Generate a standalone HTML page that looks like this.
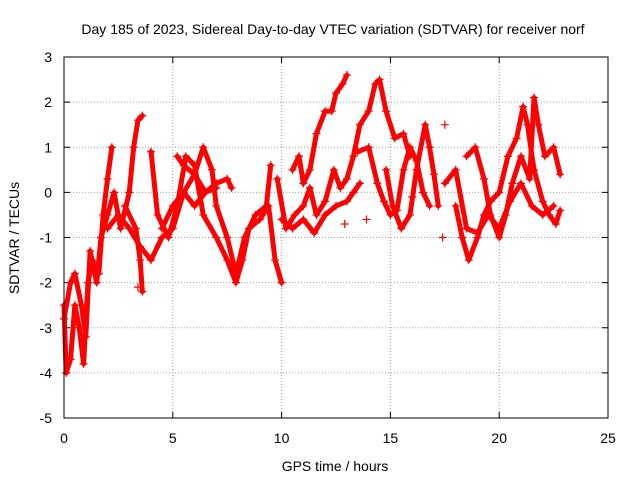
<!DOCTYPE html>
<html><head><meta charset="utf-8"><style>
body{margin:0;background:#fff}
svg text{font-family:"Liberation Sans",sans-serif;font-size:14px;fill:#000}
</style></head><body>
<svg id="chart" width="640" height="480" xmlns="http://www.w3.org/2000/svg">
<text x="333" y="34" text-anchor="middle">Day 185 of 2023, Sidereal Day-to-day VTEC variation (SDTVAR) for receiver norf</text>
<text x="335" y="471" text-anchor="middle">GPS time / hours</text>
<text transform="translate(19,238) rotate(-90)" text-anchor="middle">SDTVAR / TECUs</text>
<g id="grid"></g>
<g id="ticks"></g>
<g id="marks"></g>
<rect x="64" y="57" width="544" height="361" fill="none" stroke="#000" stroke-width="1"/>
</svg>
<script>
const xTicks=[0,5,10,15,20,25];
const yTicks=[3,2,1,0,-1,-2,-3,-4,-5];
const trackA=[[0,-2.5],[0.1,-4],[0.3,-3.7],[0.5,-2.5],[0.7,-3],[0.9,-3.8],[1.1,-2],[1.3,-1.5],[1.6,-1.8],[1.8,-0.5],[2.0,0.3],[2.2,1.0]];
const trackB=[[0,-2.8],[0.3,-2],[0.5,-1.8],[0.8,-2.5],[1.0,-3.2],[1.2,-1.3],[1.5,-2],[1.7,-1],[2.0,-0.5],[2.3,0],[2.6,-0.8],[3.0,0],[3.2,1.0],[3.4,1.6],[3.6,1.7]];
const trackC=[[2.0,-0.8],[2.5,-0.5],[3.0,-0.8],[3.5,-1.2],[4.0,-1.5],[4.5,-1],[5.0,-0.8],[5.5,0],[6.0,0.4],[6.5,0],[7.0,0.2],[7.5,0.3],[7.7,0.1]];
const trackD=[[2.8,-0.3],[3.3,-0.8],[3.5,-1.5],[3.6,-2.2]];
const trackE=[[4.0,0.9],[4.3,-0.5],[4.8,-1],[5.2,-0.3],[5.6,0.8],[6.0,0.6],[6.4,-0.5],[7.0,-1],[7.5,-1.5],[7.9,-2],[8.2,-1.5],[8.5,-0.8],[9.0,-0.6],[9.4,-0.3],[9.7,-1.5],[10.0,-2]];
const trackF=[[5.2,0.8],[5.5,0.6],[6.0,0.4],[6.4,1.0],[6.8,0.5],[7.0,-0.3],[7.5,-1],[7.9,-1.8],[8.3,-1],[8.8,-0.5],[9.3,-0.3],[9.5,0.6]];
const trackG=[[4.5,-0.8],[5.0,-0.3],[5.5,0],[6.0,-0.3],[6.5,0],[7.0,0.1]];
const trackH=[[9.8,0.3],[10.2,-0.8],[10.6,-0.5],[11,-0.3],[11.3,0.1],[11.6,-0.5],[12,-0.2],[12.4,0.5],[12.7,0.1],[13,0.3],[13.3,0.8],[13.6,1.5],[14,1.8],[14.3,2.4],[14.5,2.5],[14.8,1.8],[15.2,1.2],[15.6,1.3],[15.9,0.8]];
const trackI=[[10.5,0.5],[10.8,0.8],[11,0.2],[11.3,0.5],[11.6,1.3],[12,1.8],[12.3,1.8],[12.5,2.2],[12.8,2.4],[13,2.6]];
const trackJ=[[10,-0.6],[10.5,-0.8],[11,-0.6],[11.5,-0.9],[12,-0.5],[12.5,-0.3],[13,-0.2],[13.3,0],[13.6,0.2]];
const trackK=[[13.5,0.9],[14,1.0],[14.4,0.2],[14.7,-0.2],[15,-0.5],[15.3,-0.4],[15.6,0.5],[15.9,1.0],[16.2,0.7],[16.5,0],[16.8,-0.3]];
const trackL=[[14.8,0.5],[15.1,-0.3],[15.5,-0.8],[15.9,-0.5],[16.2,0.5],[16.6,1.5],[16.8,1.0],[17,0.4],[17.2,-0.3]];
const trackM=[[18,-0.3],[18.3,-1],[18.6,-1.5],[19,-1],[19.3,-0.5],[19.6,-0.2],[20,0],[20.4,0.8],[20.8,1.2],[21.1,1.9],[21.3,1.5],[21.6,0.5],[22,-0.2],[22.3,-0.5],[22.6,-0.7],[22.8,-0.4]];
const trackN=[[18.5,0.8],[18.9,1.0],[19.3,0.3],[19.6,-0.5],[20,-1],[20.3,-0.5],[20.6,0.2],[21,0.8],[21.4,0.3],[21.6,2.1],[21.8,1.5],[22.1,0.8],[22.5,1.0],[22.8,0.4]];
const trackO=[[17.5,0.2],[18,0.5],[18.5,-0.8],[19,-0.9],[19.5,-0.5],[20,-0.8],[20.5,-0.2],[21,0.2],[21.5,-0.3],[22,-0.5],[22.5,-0.3]];
const scattered=[[17.4,-1],[17.5,1.5],[16,-0.1],[13.9,-0.6],[12.9,-0.7],[3.4,-2.1]];
const tracks=[trackA,trackB,trackC,trackD,trackE,trackF,trackG,trackH,trackI,trackJ,trackK,trackL,trackM,trackN,trackO];

const X0=64,X1=608,Y0=418,Y1=57;
function xs(t){return X0+(t-0)/(25-0)*(X1-X0);}
function ys(v){return Y0-(v-(-5))/(3-(-5))*(Y0-Y1);}
const NS="http://www.w3.org/2000/svg";
const grid=document.getElementById('grid'),ticks=document.getElementById('ticks'),marks=document.getElementById('marks');
function mk(tag,at,parent){const e=document.createElementNS(NS,tag);for(const k in at)e.setAttribute(k,at[k]);parent.appendChild(e);return e;}
xTicks.forEach(t=>{
  const x=xs(t);
  if(t>0&&t<25){const g=mk('line',{x1:x,x2:x,y1:Y1,y2:Y0,stroke:'#a0a0a0','stroke-dasharray':'1,2'},grid);
  
  }
  mk('line',{x1:x,x2:x,y1:Y0,y2:Y0-6,stroke:'#000'},ticks);
  mk('line',{x1:x,x2:x,y1:Y1,y2:Y1+6,stroke:'#000'},ticks);
  const l=mk('text',{x:x,y:443,'text-anchor':'middle'},ticks);l.textContent=t;
  
  
});
yTicks.forEach(v=>{
  const y=ys(v);
  if(v>-5&&v<3){const g=mk('line',{x1:X0,x2:X1,y1:y,y2:y,stroke:'#a0a0a0','stroke-dasharray':'1,2'},grid);
  
  }
  mk('line',{x1:X0,x2:X0+6,y1:y,y2:y,stroke:'#000'},ticks);
  mk('line',{x1:X1,x2:X1-6,y1:y,y2:y,stroke:'#000'},ticks);
  const l=mk('text',{x:52,y:y+5,'text-anchor':'end'},ticks);l.textContent=v;
  
  
});
function plus(t,v){const x=xs(t),y=ys(v);
  const p=mk('path',{d:`M${x-4},${y}h8M${x},${y-4}v8`,stroke:'#f00','stroke-width':1.2},marks);
  
  }
tracks.forEach(tr=>{
  const pl=mk('polyline',{points:tr.map(p=>xs(p[0])+','+ys(p[1])).join(' '),fill:'none',stroke:'#f00','stroke-width':5,'stroke-linejoin':'round','stroke-linecap':'round'},marks);
  
  
  tr.forEach(p=>plus(p[0],p[1]));
});
scattered.forEach(p=>plus(p[0],p[1]));
</script>
</body></html>
